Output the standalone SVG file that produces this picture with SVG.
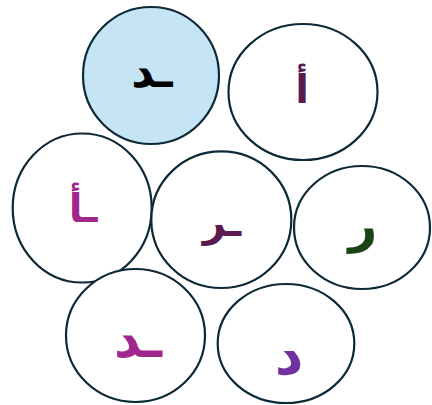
<svg xmlns="http://www.w3.org/2000/svg" width="432" height="405" viewBox="0 0 432 405">
<style>
.n{fill:#ffffff;stroke:#0d2836;stroke-width:2.2}
.t{font-family:"DejaVu Sans",sans-serif;font-weight:bold;font-size:40px;text-anchor:middle}
</style>
<rect width="432" height="405" fill="#ffffff"/>
<g id="connectors"></g>
<g id="n1"><ellipse class="n" cx="151" cy="75.5" rx="68" ry="68.5" style="fill:#c5e4f4"/><text class="t" x="152" y="87" fill="#000000" style="font-size:45px">ـد</text></g>
<g id="n2"><ellipse class="n" cx="303" cy="92" rx="74.5" ry="68"/><text class="t" x="302" y="103" fill="#5a1a50">أ</text></g>
<g id="n3"><ellipse class="n" cx="82.2" cy="208" rx="69.5" ry="74.5"/><text class="t" x="83" y="222" fill="#a0288c">ـأ</text></g>
<g id="n4"><ellipse class="n" cx="221.3" cy="219.7" rx="70" ry="68.3"/><text class="t" x="222" y="236" fill="#5a1a50">ـر</text></g>
<g id="n5"><ellipse class="n" cx="362" cy="227.5" rx="68" ry="61.5"/><text class="t" x="363" y="242" fill="#1b4416" style="font-size:50px">ر</text></g>
<g id="n6"><ellipse class="n" cx="135.5" cy="335.5" rx="69.5" ry="66.5"/><text class="t" x="138" y="357" fill="#a0288c" style="font-size:52px">ـد</text></g>
<g id="n7"><ellipse class="n" cx="286" cy="343.5" rx="68.3" ry="59.5"/><text class="t" x="289" y="374" fill="#7030a0" style="font-size:56px">د</text></g>
</svg>
